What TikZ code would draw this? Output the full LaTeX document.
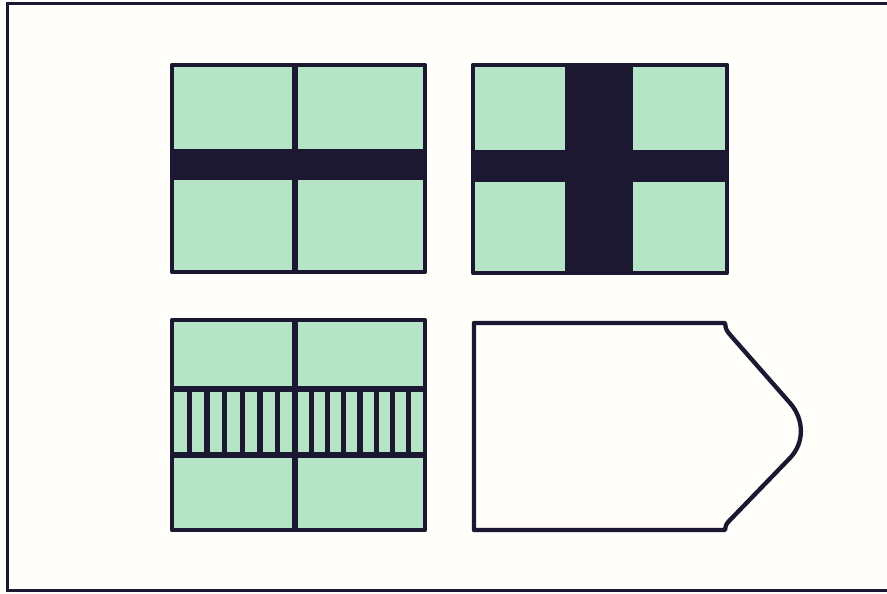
\documentclass[tikz,border=0pt]{standalone}
\usepackage{xcolor}
\usetikzlibrary{calc}
\definecolor{mint}{RGB}{181,228,198}
\definecolor{ink}{RGB}{28,24,50}
\definecolor{paper}{RGB}{255,254,250}
\begin{document}
\begin{tikzpicture}[x=0.03cm, y=-0.03cm,
panel/.style={draw=ink, line width=0.13cm, line join=round},
bar/.style={fill=ink},
divider/.style={draw=ink, line width=0.16cm},
rung/.style={draw=ink, line width=0.18cm}
]
\useasboundingbox (0,0) rectangle (887,594);
\clip (0,0) rectangle (887,594);
\fill[paper] (0,0) rectangle (887,594);
\draw[ink, line width=0.09cm] (7,4) rectangle (900,590);
% horizontal cross
\fill[mint] (172,65) rectangle (425,272);
\fill[bar] (172,149) rectangle (425,180);
\draw[divider] (295,65) -- (295,272);
\draw[panel] (172,65) rectangle (425,272);
% full cross
\fill[mint] (473,65) rectangle (727,273);
\fill[bar] (565,65) rectangle (633,273);
\fill[bar] (473,150) rectangle (727,182);
\draw[panel] (473,65) rectangle (727,273);
% striped band
\fill[mint] (172,320) rectangle (425,530);
\foreach \k in {1,...,6} \draw[divider] ({172+\k*123/7},389) -- ({172+\k*123/7},455);
\foreach \k in {1,...,7} \draw[divider] ({295+\k*16.25},389) -- ({295+\k*16.25},455);
\draw[rung] (172,389) -- (425,389);
\draw[rung] (172,455) -- (425,455);
\draw[divider] (295,320) -- (295,530);
\draw[panel] (172,320) rectangle (425,530);
% pennant outline
\draw[panel] (474,323) -- (725,323) .. controls (726,330) .. (732,337) -- (790,403)
  .. controls (804.5,419.5) and (804.5,443) .. (790,458) -- (732,518)
  .. controls (726,524) .. (725,530) -- (474,530) -- cycle;
\end{tikzpicture}
\end{document}
